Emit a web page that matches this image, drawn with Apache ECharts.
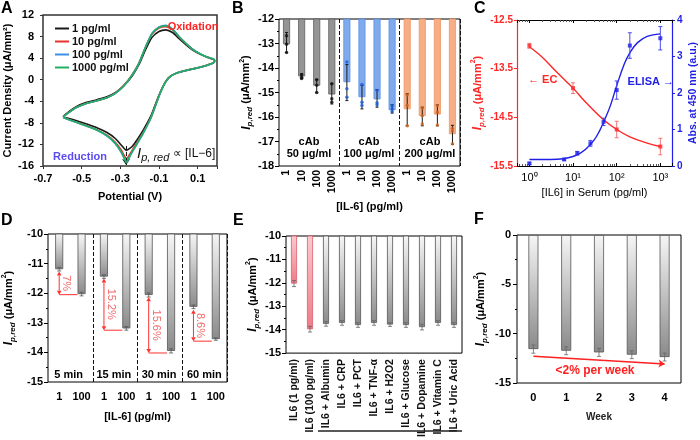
<!DOCTYPE html>
<html><head><meta charset="utf-8">
<script src="https://cdn.jsdelivr.net/npm/echarts@6/dist/echarts.min.js"></script>
<style>html,body{margin:0;padding:0;background:#fff}#c{width:700px;height:440px}</style>
</head><body><div id="c"></div>
<script>
// ---------------- Panel A: cyclic voltammograms ----------------
const cvPotentialUp = [-0.596,-0.561,-0.526,-0.474,-0.421,-0.369,-0.326,-0.283,-0.239,-0.204,-0.169,-0.135,-0.1,-0.065,-0.03,0.004,0.039,0.074,0.117,0.152,0.187];
const cvPotentialDown = [0.187,0.152,0.1,0.048,-0.004,-0.039,-0.065,-0.091,-0.117,-0.143,-0.178,-0.213,-0.239,-0.26,-0.268,-0.279,-0.296,-0.326,-0.369,-0.421,-0.474,-0.526,-0.57,-0.596];
const cv1Up = [-6.86,-5.8,-4.95,-4.2,-3.7,-3.15,-2.4,-1.15,0.7,2.8,5.6,7.9,8.95,9.25,8.75,7.6,6.5,5.5,4.65,4.1,3.62];
const cv1Down = [3.34,2.73,2.2,1.78,1.3,0.7,-0.3,-2.1,-4.4,-6.8,-9.1,-11.1,-12.4,-12.95,-13.1,-12.8,-12.1,-10.9,-9.8,-8.9,-8.2,-7.6,-7.15,-6.9];
const cv10Up = [-6.86,-5.93,-5.12,-4.38,-3.89,-3.33,-2.5,-1.1,0.95,3.1,6.1,8.5,9.6,9.85,9.25,7.95,6.72,5.62,4.7,4.15,3.66];
const cv10Down = [3.34,2.73,2.23,1.8,1.3,0.69,-0.35,-2.2,-4.65,-7.1,-9.55,-11.65,-13.1,-14.3,-14.6,-14.1,-13.0,-11.6,-10.3,-9.3,-8.55,-7.9,-7.34,-6.97];
const cv100Up = [-6.9,-5.95,-5.15,-4.4,-3.9,-3.35,-2.55,-1.2,0.85,3.0,6.1,8.65,9.8,10.1,9.4,8.0,6.76,5.65,4.72,4.17,3.7];
const cv100Down = [3.3,2.7,2.2,1.78,1.28,0.67,-0.4,-2.25,-4.72,-7.2,-9.7,-11.9,-13.45,-14.9,-15.3,-14.7,-13.45,-11.85,-10.45,-9.38,-8.62,-7.93,-7.37,-7.0];
const cv1000Up = [-6.86,-5.93,-5.12,-4.38,-3.89,-3.33,-2.52,-1.17,0.87,3.04,6.12,8.6,9.7,10.0,9.35,7.98,6.75,5.64,4.71,4.16,3.66];
const cv1000Down = [3.34,2.73,2.23,1.8,1.3,0.69,-0.37,-2.22,-4.69,-7.15,-9.63,-11.8,-13.35,-14.76,-15.4,-14.57,-13.35,-11.8,-10.38,-9.32,-8.58,-7.9,-7.34,-6.97];
const cvNames = ['1 pg/ml','10 pg/ml','100 pg/ml','1000 pg/ml'];
const cvArrow = [[-0.27,-12.3],[-0.27,-15.8]];

// ---------------- Panel B ----------------
const bCategories = ['1','10','100','1000','1','10','100','1000','1','10','100','1000'];
const bMean50 = [-13.03,-14.34,-14.72,-15.08];
const bMean100 = [-14.58,-15.19,-15.28,-15.72];
const bMean200 = [-15.68,-15.96,-15.9,-16.7];
const bErr50 = [[-12.55,-13.37],[-14.23,-14.44],[-14.47,-15.01],[-14.64,-15.47]];
const bErr100 = [[-13.86,-15.33],[-14.71,-15.67],[-14.88,-15.6],[-15.5,-15.84]];
const bErr200 = [[-15.05,-16.36],[-15.6,-16.36],[-15.5,-16.36],[-16.34,-17.12]];
const bDots50 = [[-12.68,-13.03,-13.37],[-14.28,-14.38,-14.43],[-14.48,-14.7,-15.0],[-14.64,-15.26,-15.4]];
const bDots100 = [[-13.75,-14.85,-15.19],[-14.67,-15.4,-15.53],[-14.92,-15.42,-15.5],[-15.53,-15.67,-15.78]];
const bDots200 = [[-15.1,-15.53,-16.36],[-15.64,-15.95,-16.29],[-15.53,-15.81,-16.33],[-16.47,-16.57,-17.09]];
const bGroupLabels = ['50 μg/ml','100 μg/ml','200 μg/ml'];

// ---------------- Panel C ----------------
const cEcConc = [1,10,100,1000];
const cEcMean = [-13.03,-13.9,-14.75,-15.1];
const cEcErr = [0.05,0.11,0.17,0.17];
const cEcFitConc = [1,2,4,10,20,50,100,200,500,1000];
const cEcFit = [-13.05,-13.27,-13.55,-13.9,-14.2,-14.55,-14.75,-14.9,-15.03,-15.1];
const cElisaConc = [1,6.25,12.5,25,50,100,200,1000];
const cElisaMean = [0.07,0.18,0.35,0.62,1.21,2.08,3.3,3.5];
const cElisaErr = [0.03,0.02,0.05,0.08,0.1,0.25,0.35,0.32];
const cElisaFitConc = [1,3,6,10,15,20,30,40,50,70,100,150,200,300,500,1000];
const cElisaFit = [0.18,0.18,0.2,0.26,0.36,0.47,0.7,0.95,1.2,1.62,2.2,2.8,3.1,3.38,3.55,3.62];
const cTickExp = ['⁰','¹','²','³'];

// ---------------- Panel D ----------------
const dCategories = ['1','100','1','100','1','100','1','100'];
const dValues = [-11.19,-12.03,-11.44,-13.19,-12.06,-13.95,-12.46,-13.55];
const dErr = [0.06,0.06,0.06,0.06,0.07,0.07,0.06,0.04];
const dGroups = ['5 min','15 min','30 min','60 min'];
const dArrowCat = [0,2,4,6];
const dArrowTop = [-11.27,-11.5,-12.14,-12.56];
const dArrowBottom = [-12.05,-13.25,-14.02,-13.62];
const dArrowLabels = ['7%','15.2%','15.6%','8.6%'];

// ---------------- Panel E ----------------
const eCategories = ['IL6 (1 pg/ml)','IL6 (100 pg/ml)','IL6 + Albumin','IL6 + CRP','IL6 + PCT','IL6 + TNF-α','IL6 + H2O2','IL6 + Glucose','IL6 + Dopamine','IL6 + Vitamin C','IL6 + Uric Acid'];
const eValues = [-12.03,-13.98,-13.75,-13.71,-13.8,-13.71,-13.78,-13.8,-13.89,-13.71,-13.8];
const eErr = [0.13,0.12,0.1,0.1,0.1,0.1,0.08,0.1,0.12,0.1,0.1];

// ---------------- Panel F ----------------
const fCategories = ['0','1','2','3','4'];
const fValues = [-11.56,-11.73,-11.9,-12.13,-12.37];
const fErr = [0.42,0.4,0.4,0.4,0.4];
const fTrend = [[0,-12.3],[4,-13.07]];

// ================= styling helpers =================
const FONT = '"Liberation Sans", Arial, Helvetica, sans-serif';
const boldLbl = (extra) => Object.assign({fontFamily: FONT, fontWeight: 'bold', fontSize: 11, color: '#000'}, extra || {});
function ipName(color) {
  return {
    name: '{i|I}{s|p,red}{n| (μA/mm}{u|2}{n|)}',
    nameTextStyle: {color, rich: {
      i: {fontFamily: FONT, fontStyle: 'italic', fontWeight: 'bold', fontSize: 12, color, lineHeight: 16},
      s: {fontFamily: FONT, fontStyle: 'italic', fontWeight: 'bold', fontSize: 8, color, verticalAlign: 'bottom'},
      n: {fontFamily: FONT, fontWeight: 'bold', fontSize: 11, color, lineHeight: 16},
      u: {fontFamily: FONT, fontWeight: 'bold', fontSize: 7, color, verticalAlign: 'top'}
    }}
  };
}
const greyGrad = {type: 'linear', x: 0, y: 0, x2: 0, y2: 1, colorStops: [{offset: 0, color: '#f6f6f6'}, {offset: 1, color: '#8a8a8a'}]};
const pinkGrad = {type: 'linear', x: 0, y: 0, x2: 0, y2: 1, colorStops: [{offset: 0, color: '#fbc9cf'}, {offset: 1, color: '#ee7b87'}]};

function errRender(color, cap, lw) {
  return function (params, api) {
    const x = api.value(0);
    const lo = api.coord([x, api.value(1)]);
    const hi = api.coord([x, api.value(2)]);
    const st = {stroke: color, lineWidth: lw};
    return {type: 'group', children: [
      {type: 'line', shape: {x1: lo[0], y1: lo[1], x2: hi[0], y2: hi[1]}, style: st},
      {type: 'line', shape: {x1: lo[0] - cap, y1: lo[1], x2: lo[0] + cap, y2: lo[1]}, style: st},
      {type: 'line', shape: {x1: hi[0] - cap, y1: hi[1], x2: hi[0] + cap, y2: hi[1]}, style: st}
    ]};
  };
}
function errSeries(xi, yi, data, color, cap, lw) {
  return {type: 'custom', xAxisIndex: xi, yAxisIndex: yi, data, encode: {x: 0, y: [1, 2]},
    renderItem: errRender(color, cap, lw), z: 5, silent: true};
}

// ================= build series =================
const series = [];
const cvColors = ['#1a1a1a', '#e8322b', '#3f8fe6', '#22b060'];
[[cv1Up, cv1Down], [cv10Up, cv10Down], [cv100Up, cv100Down], [cv1000Up, cv1000Down]].forEach((pair, k) => {
  const ys = pair[0].concat(pair[1]);
  const xs = cvPotentialUp.concat(cvPotentialDown);
  const s = {type: 'line', name: cvNames[k], xAxisIndex: 0, yAxisIndex: 0, symbol: 'none', smooth: 0.3,
    data: xs.map((x, i) => [x, ys[i]]), lineStyle: {width: 1.6, color: cvColors[k]}, itemStyle: {color: cvColors[k]}, z: 3 + k};
  if (k === 0) {
    s.markLine = {silent: true, symbol: ['none', 'arrow'], symbolSize: 6, label: {show: false},
      lineStyle: {color: '#111', type: 'dashed', width: 1},
      data: [[{coord: cvArrow[0]}, {coord: cvArrow[1]}]]};
  }
  series.push(s);
});

// Panel B
const bGroups = [
  {mean: bMean50, err: bErr50, dots: bDots50, fill: '#959595', border: '#5e5e5e', dot: '#111'},
  {mean: bMean100, err: bErr100, dots: bDots100, fill: '#80aaee', border: '#5a8ee6', dot: '#1a5fd6'},
  {mean: bMean200, err: bErr200, dots: bDots200, fill: '#f5ae86', border: '#f09563', dot: '#cf6420'}
];
const bBarData = [], bErrData = [];
bGroups.forEach((g, gi) => {
  g.mean.forEach((v, i) => {
    bBarData.push({value: v, itemStyle: {color: g.fill, borderColor: g.border, borderWidth: 0.8}});
    bErrData.push([gi * 4 + i, g.err[i][0], g.err[i][1]]);
  });
});
series.push({type: 'bar', xAxisIndex: 1, yAxisIndex: 1, data: bBarData, barWidth: 7, clip: true, z: 2});
series.push(errSeries(1, 1, bErrData, '#1a1a1a', 1.5, 1));
bGroups.forEach((g, gi) => {
  const pts = [];
  g.dots.forEach((arr, i) => arr.forEach(v => pts.push([gi * 4 + i, v])));
  series.push({type: 'scatter', xAxisIndex: 1, yAxisIndex: 1, data: pts, symbolSize: 3.5, itemStyle: {color: g.dot}, z: 6, silent: true});
});

// Panel C
const RED = '#ff2626', BLUE = '#1f1fe8';
series.push({type: 'line', xAxisIndex: 2, yAxisIndex: 2, data: cEcFitConc.map((x, i) => [x, cEcFit[i]]), symbol: 'none', smooth: 0.4,
  lineStyle: {color: RED, width: 1.4}, z: 3});
series.push(errSeries(2, 2, cEcConc.map((x, i) => [x, cEcMean[i] - cEcErr[i], cEcMean[i] + cEcErr[i]]), '#f27575', 2, 1));
series.push({type: 'scatter', xAxisIndex: 2, yAxisIndex: 2, data: cEcConc.map((x, i) => [x, cEcMean[i]]), symbol: 'rect', symbolSize: 4, itemStyle: {color: RED}, z: 6});
series.push({type: 'line', xAxisIndex: 2, yAxisIndex: 3, data: cElisaFitConc.map((x, i) => [x, cElisaFit[i]]), symbol: 'none', smooth: 0.4,
  lineStyle: {color: BLUE, width: 1.4}, z: 3});
series.push(errSeries(2, 3, cElisaConc.map((x, i) => [x, cElisaMean[i] - cElisaErr[i], cElisaMean[i] + cElisaErr[i]]), '#4a4af0', 2, 1));
series.push({type: 'scatter', xAxisIndex: 2, yAxisIndex: 3, data: cElisaConc.map((x, i) => [x, cElisaMean[i]]), symbol: 'rect', symbolSize: 4, itemStyle: {color: BLUE}, z: 6});

// Panel D
series.push({type: 'bar', xAxisIndex: 4, yAxisIndex: 4, data: dValues, barWidth: 8, clip: true, z: 2,
  itemStyle: {color: greyGrad, borderColor: '#555', borderWidth: 0.8}});
series.push(errSeries(4, 4, dValues.map((v, i) => [i, v - dErr[i], v + dErr[i]]), '#555', 2, 0.8));
series.push({type: 'custom', xAxisIndex: 4, yAxisIndex: 4, z: 8, silent: true, encode: {x: 0, y: [1, 2]},
  data: dArrowCat.map((c, i) => [c, dArrowTop[i], dArrowBottom[i]]),
  renderItem: function (params, api) {
    const c = api.value(0);
    const top = api.coord([c, api.value(1)]);
    const bot = api.coord([c, api.value(2)]);
    const next = api.coord([c + 1, api.value(2)]);
    const col = '#ff3030', ah = 4, aw = 2.3;
    return {type: 'group', children: [
      {type: 'line', shape: {x1: top[0], y1: top[1] + ah, x2: bot[0], y2: bot[1] - ah}, style: {stroke: col, lineWidth: 1}},
      {type: 'polygon', shape: {points: [[top[0], top[1]], [top[0] - aw, top[1] + ah], [top[0] + aw, top[1] + ah]]}, style: {fill: col}},
      {type: 'polygon', shape: {points: [[bot[0], bot[1]], [bot[0] - aw, bot[1] - ah], [bot[0] + aw, bot[1] - ah]]}, style: {fill: col}},
      {type: 'line', shape: {x1: bot[0], y1: bot[1], x2: next[0] - 4, y2: bot[1]}, style: {stroke: col, lineWidth: 1}},
      {type: 'text', x: top[0] + 7, y: (top[1] + bot[1]) / 2, rotation: -Math.PI / 2,
        style: {text: dArrowLabels[params.dataIndex], fill: '#f26a6a', font: '11px ' + FONT, align: 'center', verticalAlign: 'middle'}}
    ]};
  }});

// Panel E
series.push({type: 'bar', xAxisIndex: 5, yAxisIndex: 5, barWidth: 6, clip: true, z: 2,
  data: eValues.map((v, i) => ({value: v, itemStyle: {color: i < 2 ? pinkGrad : greyGrad, borderColor: i < 2 ? '#d95d6a' : '#555', borderWidth: 0.8}}))});
series.push(errSeries(5, 5, eValues.map((v, i) => [i, v - eErr[i], v + eErr[i]]), '#666', 2, 0.8));

// Panel F
series.push({type: 'bar', xAxisIndex: 6, yAxisIndex: 6, data: fValues, barWidth: 10, clip: true, z: 2,
  itemStyle: {color: greyGrad, borderColor: '#555', borderWidth: 0.8},
  markLine: {silent: true, symbol: ['none', 'arrow'], symbolSize: 6, label: {show: false}, lineStyle: {color: '#ff2020', type: 'solid', width: 1.5},
    data: [[{coord: fTrend[0]}, {coord: fTrend[1]}]]}});
series.push(errSeries(6, 6, fValues.map((v, i) => [i, v - fErr[i], v + fErr[i]]), '#666', 2, 0.8));

// ================= axes =================
const noSplit = {show: false};
const hiddenLine = {show: false, onZero: false};
const logMinor = {show: true, splitNumber: 9, length: 2, lineStyle: {color: '#555'}};
const xAxis = [
  {gridIndex: 0, type: 'value', min: -0.7, max: 0.2, interval: 0.2, splitLine: noSplit,
    axisLine: hiddenLine, axisTick: {show: true, length: 3, lineStyle: {color: '#333'}},
    axisLabel: boldLbl({fontSize: 11, margin: 7, formatter: v => Math.abs(v - 0.2) < 1e-6 ? '' : v.toFixed(1)}),
    name: 'Potential (V)', nameLocation: 'middle', nameGap: 25, nameTextStyle: boldLbl()},
  {gridIndex: 1, type: 'category', data: bCategories, axisTick: {show: false}, axisLine: hiddenLine,
    axisLabel: boldLbl({rotate: 90, margin: 4, fontSize: 10.5, interval: 0}),
    splitLine: {show: true, interval: (i) => i === 4 || i === 8, lineStyle: {color: '#111', type: 'dashed', width: 1}},
    name: '[IL-6] (pg/ml)', nameLocation: 'middle', nameGap: 35, nameTextStyle: boldLbl()},
  {gridIndex: 2, type: 'log', logBase: 10, min: 0.52, max: 1850, splitLine: noSplit,
    axisLine: {show: true, onZero: false, lineStyle: {color: '#000', width: 1}},
    axisTick: {show: true, inside: true, length: 3, lineStyle: {color: '#000'}},
    minorTick: logMinor,
    axisLabel: {fontFamily: FONT, fontSize: 11, color: '#000', margin: 6, formatter: v => {
      const e = Math.log10(v); const r = Math.round(e);
      return Math.abs(e - r) < 1e-6 && r >= 0 && r <= 3 ? '10' + cTickExp[r] : '';
    }},
    name: '[IL6] in Serum (pg/ml)', nameLocation: 'middle', nameGap: 21, nameTextStyle: {fontFamily: FONT, fontSize: 11, color: '#000'}},
  {gridIndex: 2, type: 'log', logBase: 10, position: 'top', min: 0.52, max: 1850, splitLine: noSplit,
    axisLine: {show: true, onZero: false, lineStyle: {color: '#000', width: 1}},
    axisTick: {show: true, inside: true, length: 3, lineStyle: {color: '#000'}}, minorTick: logMinor, axisLabel: {show: false}},
  {gridIndex: 3, type: 'category', data: dCategories, axisTick: {show: false}, axisLine: hiddenLine,
    axisLabel: boldLbl({margin: 9, interval: 0}),
    splitLine: {show: true, interval: (i) => i === 2 || i === 4 || i === 6, lineStyle: {color: '#111', type: 'dashed', width: 1}},
    name: '[IL-6] (pg/ml)', nameLocation: 'middle', nameGap: 29, nameTextStyle: boldLbl()},
  {gridIndex: 4, type: 'category', data: eCategories, axisTick: {show: false}, axisLine: hiddenLine,
    axisLabel: boldLbl({rotate: 90, margin: 6, fontSize: 10.5, color: '#111', interval: 0})},
  {gridIndex: 5, type: 'category', data: fCategories, axisTick: {show: false}, axisLine: hiddenLine,
    axisLabel: boldLbl({margin: 9, interval: 0}),
    name: 'Week', nameLocation: 'middle', nameGap: 29, nameTextStyle: boldLbl({fontSize: 10, color: '#222'})}
];
const yAxis = [
  {gridIndex: 0, type: 'value', min: -16, max: 12, interval: 4, splitLine: noSplit,
    axisLine: hiddenLine, axisTick: {show: true, length: 3, lineStyle: {color: '#333'}},
    axisLabel: boldLbl({margin: 9}),
    name: 'Current Density (μA/mm²)', nameLocation: 'middle', nameGap: 30, nameTextStyle: boldLbl()},
  Object.assign({gridIndex: 1, type: 'value', min: -18, max: -12, interval: 1, splitLine: noSplit,
    axisLine: hiddenLine, axisTick: {show: true, length: 4, lineStyle: {color: '#000'}},
    minorTick: {show: true, splitNumber: 2, length: 2, lineStyle: {color: '#000'}},
    axisLabel: boldLbl({margin: 5}), nameLocation: 'middle', nameGap: 22}, ipName('#000')),
  Object.assign({gridIndex: 2, type: 'value', min: -15.5, max: -12.5, interval: 1, splitLine: noSplit,
    axisLine: {show: true, onZero: false, lineStyle: {color: RED, width: 1.2}}, axisTick: {show: true, length: 3, lineStyle: {color: RED}},
    axisLabel: boldLbl({color: RED, fontSize: 10, margin: 4}), nameLocation: 'middle', nameGap: 31}, ipName(RED)),
  {gridIndex: 2, type: 'value', position: 'right', min: 0, max: 4, interval: 1, splitLine: noSplit,
    axisLine: {show: true, onZero: false, lineStyle: {color: BLUE, width: 1.2}}, axisTick: {show: true, length: 3, lineStyle: {color: BLUE}},
    axisLabel: boldLbl({color: BLUE, fontSize: 10, margin: 5}),
    name: 'Abs. at 450 nm (a.u.)', nameLocation: 'middle', nameGap: 16, nameTextStyle: boldLbl({color: BLUE, fontSize: 10.5})},
  Object.assign({gridIndex: 3, type: 'value', min: -15, max: -10, interval: 1, splitLine: noSplit,
    axisLine: hiddenLine, axisTick: {show: true, length: 4, lineStyle: {color: '#000'}},
    minorTick: {show: true, splitNumber: 2, length: 2, lineStyle: {color: '#000'}},
    axisLabel: boldLbl({margin: 5}), nameLocation: 'middle', nameGap: 31}, ipName('#000')),
  Object.assign({gridIndex: 4, type: 'value', min: -15, max: -10, interval: 1, splitLine: noSplit,
    axisLine: hiddenLine, axisTick: {show: true, length: 4, lineStyle: {color: '#000'}},
    minorTick: {show: true, splitNumber: 2, length: 2, lineStyle: {color: '#000'}},
    axisLabel: boldLbl({margin: 5}), nameLocation: 'middle', nameGap: 25}, ipName('#000')),
  Object.assign({gridIndex: 5, type: 'value', min: -15, max: 0, interval: 5, splitLine: noSplit,
    axisLine: hiddenLine, axisTick: {show: true, length: 4, lineStyle: {color: '#000'}},
    minorTick: {show: true, splitNumber: 2, length: 2, lineStyle: {color: '#000'}},
    axisLabel: boldLbl({margin: 6}), nameLocation: 'middle', nameGap: 28}, ipName('#000'))
];

const grid = [
  {left: 43, top: 15, width: 174, height: 151, show: true, borderColor: '#333', borderWidth: 1.5},
  {left: 279, top: 19, width: 181, height: 147, show: true, borderColor: '#000', borderWidth: 1},
  {left: 517, top: 20, width: 161, height: 146},
  {left: 46, top: 234, width: 181, height: 148, show: true, borderColor: '#000', borderWidth: 1},
  {left: 286, top: 236, width: 176, height: 122, show: true, borderColor: '#000', borderWidth: 1},
  {left: 517, top: 235, width: 164, height: 148, show: true, borderColor: '#000', borderWidth: 1}
];

// ================= text annotations =================
const txt = (x, y, text, opt) => ({type: 'text', x, y, z: 20, style: Object.assign({text, fill: '#000', font: 'bold 11px ' + FONT, align: 'center', verticalAlign: 'middle'}, opt || {})});
const graphic = [
  txt(1, 1, 'A', {font: 'bold 16px ' + FONT, align: 'left', verticalAlign: 'top'}),
  txt(232, 1, 'B', {font: 'bold 16px ' + FONT, align: 'left', verticalAlign: 'top'}),
  txt(474, 1, 'C', {font: 'bold 16px ' + FONT, align: 'left', verticalAlign: 'top'}),
  txt(1, 213, 'D', {font: 'bold 16px ' + FONT, align: 'left', verticalAlign: 'top'}),
  txt(233, 213, 'E', {font: 'bold 16px ' + FONT, align: 'left', verticalAlign: 'top'}),
  txt(474, 212, 'F', {font: 'bold 16px ' + FONT, align: 'left', verticalAlign: 'top'}),
  txt(193, 27, 'Oxidation', {fill: '#ff2323'}),
  txt(80, 157, 'Reduction', {fill: '#5b4cf2'}),
  {type: 'text', x: 137, y: 154, z: 20, style: {text: '{i|I}{s|p, red}{n| ∝ [IL−6]}', align: 'left', verticalAlign: 'middle', rich: {
    i: {fontFamily: FONT, fontStyle: 'italic', fontSize: 15, fill: '#111', lineHeight: 18},
    s: {fontFamily: FONT, fontStyle: 'italic', fontSize: 11, fill: '#111', verticalAlign: 'bottom'},
    n: {fontFamily: FONT, fontSize: 12, fill: '#111', lineHeight: 18}}}},
  txt(309, 142, 'cAb'), txt(309, 154, bGroupLabels[0]),
  txt(369, 142, 'cAb'), txt(369, 154, bGroupLabels[1]),
  txt(430, 142, 'cAb'), txt(430, 154, bGroupLabels[2]),
  txt(528, 80, '← EC', {fill: RED, align: 'left'}),
  txt(674, 82, 'ELISA →', {fill: BLUE, align: 'right'}),
  txt(68.6, 375, dGroups[0]), txt(113.9, 375, dGroups[1]), txt(159.1, 375, dGroups[2]), txt(204.4, 375, dGroups[3]),
  {type: 'line', z: 20, shape: {x1: 318, y1: 431, x2: 462, y2: 431}, style: {stroke: '#222', lineWidth: 1.3}},
  txt(595, 371, '<2% per week', {fill: '#ff2020', font: 'bold 12px ' + FONT})
];

const chart = echarts.init(document.getElementById('c'), null, {renderer: 'canvas'});
chart.setOption({
  animation: false,
  backgroundColor: '#fff',
  grid, xAxis, yAxis, series, graphic,
  legend: {data: cvNames, left: 50, top: 18, orient: 'vertical', icon: 'rect', itemWidth: 14, itemHeight: 2, itemGap: 2,
    textStyle: {fontFamily: FONT, fontWeight: 'bold', fontSize: 11, color: '#111', padding: [0, 0, 0, -2]}}
});
</script></body></html>
